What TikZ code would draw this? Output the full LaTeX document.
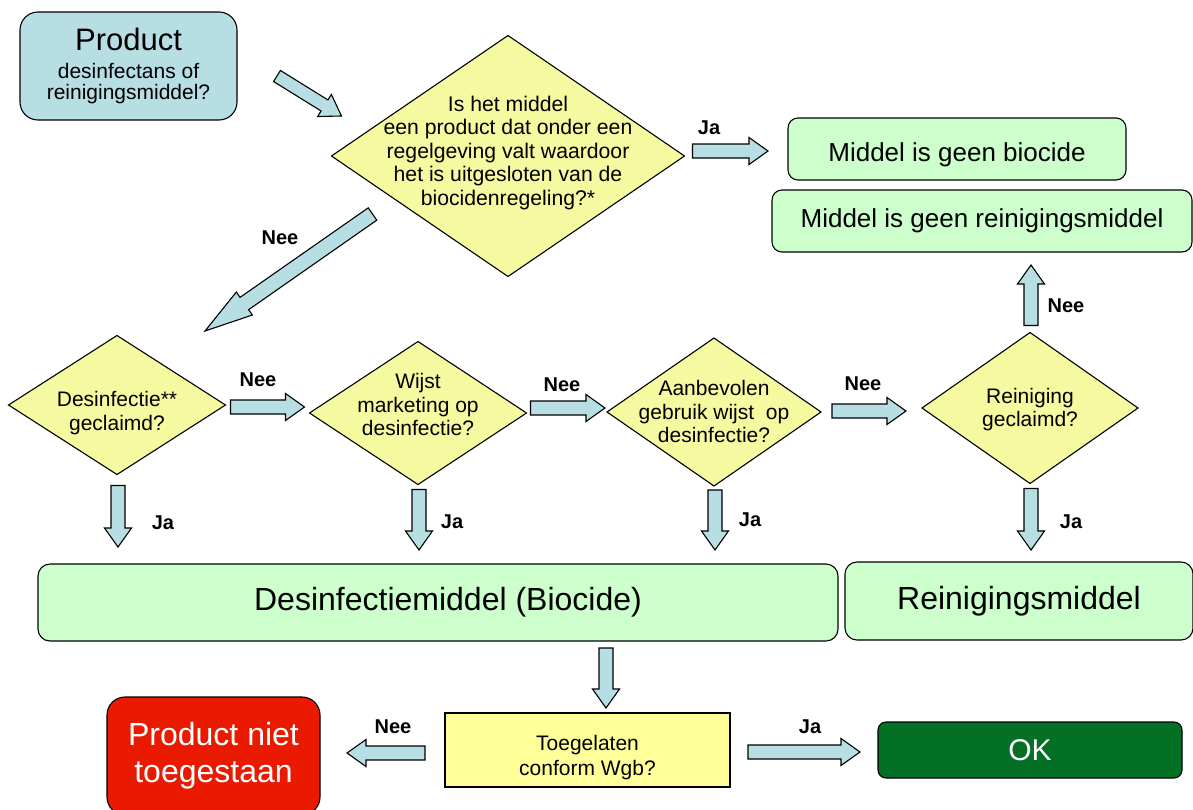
\documentclass[tikz,border=0pt]{standalone}
\usepackage{fontspec}
\setmainfont{Liberation Sans}
\usetikzlibrary{shapes}
\usetikzlibrary{calc}

\definecolor{arrowblue}{HTML}{B7DEE3}
\definecolor{startblue}{HTML}{B7DEE3}
\definecolor{askyellow}{HTML}{F5F99F}
\definecolor{boxyellow}{HTML}{FFFF99}
\definecolor{endgreen}{HTML}{CCFFCC}
\definecolor{stopred}{HTML}{EA1A00}
\definecolor{okgreen}{HTML}{047025}

% text of a node, kept from growing the shape
\newcommand{\dtext}[2][-5pt]{\smash{\makebox[0pt]{\raisebox{#1}{\parbox{400pt}{\centering #2}}}}}

\tikzset{
	block arrow/.style n args={3}{draw=black, fill=arrowblue, line width=1.1pt,
		to path={
			($(\tikztostart)!#1!90:(\tikztotarget)$)
			-- ($($(\tikztotarget)!#3!(\tikztostart)$)!#1!-90:(\tikztostart)$)
			-- ($($(\tikztotarget)!#3!(\tikztostart)$)!#2!-90:(\tikztostart)$)
			-- (\tikztotarget)
			-- ($($(\tikztotarget)!#3!(\tikztostart)$)!#2!90:(\tikztostart)$)
			-- ($($(\tikztotarget)!#3!(\tikztostart)$)!#1!90:(\tikztostart)$)
			-- ($(\tikztostart)!#1!-90:(\tikztotarget)$)
			-- cycle}},
	yesno/.style={block arrow={7pt}{13.5pt}{19pt}},
	ask/.style={draw, diamond, fill=askyellow, inner sep=0pt, outer sep=0pt, line width=1.1pt},
	box/.style={draw, rectangle, rounded corners=10pt, fill=endgreen, inner sep=0pt, outer sep=0pt, line width=1.1pt},
	lbl/.style={font=\fontsize{20}{24}\selectfont\bfseries},
}

\begin{document}
\begin{tikzpicture}[x=1pt, y=-1pt]
	\useasboundingbox (0,0) rectangle (1193,809);

	\node[box, fill=startblue, rounded corners=18pt, minimum width=217pt, minimum height=108pt, align=center, font=\fontsize{21}{20.7}\selectfont] (start) at (128.5,66) {{\fontsize{31}{31}\selectfont Product}\\[7pt]desinfectans of\\reinigingsmiddel?};
	\node[ask, minimum width=353pt, minimum height=241pt, font=\fontsize{21.2}{23.6}\selectfont] (q0) at (508,156) {\dtext[-2pt]{Is het middel\\een product dat onder een\\regelgeving valt waardoor\\het is uitgesloten van de\\biocidenregeling?*}};
	\node[box, minimum width=338pt, minimum height=62pt, font=\fontsize{26}{30}\selectfont] (geen1) at (957,149) {\dtext[-11.5pt]{Middel is geen biocide}};
	\node[box, minimum width=420pt, minimum height=62pt, font=\fontsize{26}{30}\selectfont] (geen2) at (982,221) {Middel is geen reinigingsmiddel};

	\node[ask, minimum width=217pt, minimum height=139pt, font=\fontsize{21}{24}\selectfont] (q1) at (117,405) {\dtext[-13pt]{Desinfectie**\\geclaimd?}};
	\node[ask, minimum width=217pt, minimum height=143pt, font=\fontsize{21}{23.5}\selectfont] (q2) at (418,413) {\dtext[3pt]{Wijst\\marketing op\\desinfectie?}};
	\node[ask, minimum width=214pt, minimum height=148pt, font=\fontsize{21}{23.5}\selectfont] (q3) at (714,412) {\dtext{Aanbevolen\\gebruik wijst\ \ op\\desinfectie?}};
	\node[ask, minimum width=216pt, minimum height=151pt, font=\fontsize{21}{22.5}\selectfont] (q4) at (1030,408) {\dtext[-6.5pt]{Reiniging\\geclaimd?}};

	\node[box, rounded corners=12pt, minimum width=800pt, minimum height=77pt, font=\fontsize{32}{36}\selectfont] (bio) at (438,602.5) {\hspace*{20pt}Desinfectiemiddel (Biocide)};
	\node[box, rounded corners=12pt, minimum width=348pt, minimum height=78pt, font=\fontsize{32}{36}\selectfont] (rein) at (1019,601) {Reinigingsmiddel};

	\node[box, fill=boxyellow, sharp corners, minimum width=285pt, minimum height=74pt, font=\fontsize{21}{25}\selectfont] (wgb) at (587.5,750) {\dtext[-12.5pt]{Toegelaten\\conform Wgb?}};
	\node[box, fill=stopred, rounded corners=18pt, minimum width=213pt, minimum height=118pt, align=center, text=white, font=\fontsize{32}{37}\selectfont] (stop) at (213.5,756) {Product niet\\toegestaan};
	\node[box, fill=okgreen, rounded corners=8pt, minimum width=304pt, minimum height=56pt, text=white, font=\fontsize{30}{34}\selectfont] (ok) at (1030,750) {OK};

	% arrows
	\draw[block arrow={6.5pt}{13pt}{20pt}] ([shift={(40,10)}]start.east) to ([shift={(10,-40)}]q0.west);
	\draw[yesno] ([shift={(8,-5)}]q0.east) to ([shift={(-20,2)}]geen1.west);
	\draw[block arrow={7.5pt}{14pt}{48pt}] ([shift={(41,58)}]q0.west) to ([shift={(88,-4.5)}]q1.north);
	\draw[yesno] ([shift={(5,2)}]q1.east) to ([shift={(-5,-6)}]q2.west);
	\draw[yesno] ([shift={(4,-5)}]q2.east) to ([shift={(-2,-4)}]q3.west);
	\draw[yesno] ([shift={(11,-1)}]q3.east) to ([shift={(-16,3)}]q4.west);
	\draw[yesno] ([shift={(1,-7)}]q4.north) to ([shift={(49,13)}]geen2.south);
	\foreach \q/\t/\a/\b in {q1/bio/11/17, q2/bio/5/14, q3/bio/4/14, q4/rein/5/12}
		\draw[yesno] ([shift={(1,\a)}]\q.south) to ($(\q.south |- \t.north)+(1,-\b)$);
	\draw[yesno] ($(wgb.north |- bio.south)+(18.5,7)$) to ([shift={(18.5,-5)}]wgb.north);
	\draw[yesno] ([shift={(-20,3)}]wgb.west) to ([shift={(27,-3)}]stop.east);
	\draw[yesno] ([shift={(18,2)}]wgb.east) to ([shift={(-18,2)}]ok.west);

	% labels
	\node[lbl] (ja0) at (709,128) {Ja};
	\node[lbl] (nee0) at (280,238) {Nee};
	\node[lbl] (nee1) at (258,380) {Nee};
	\node[lbl] (nee2) at (562,385) {Nee};
	\node[lbl] (nee3) at (863,384) {Nee};
	\node[lbl] (nee4) at (1066,306) {Nee};
	\foreach \i/\x/\y in {1/163/523, 2/452/522, 3/750/520, 4/1071/522}
		\node[lbl] (ja\i) at (\x,\y) {Ja};
	\node[lbl] (nee5) at (393,727) {Nee};
	\node[lbl] (ja5) at (810,727) {Ja};
\end{tikzpicture}
\end{document}
